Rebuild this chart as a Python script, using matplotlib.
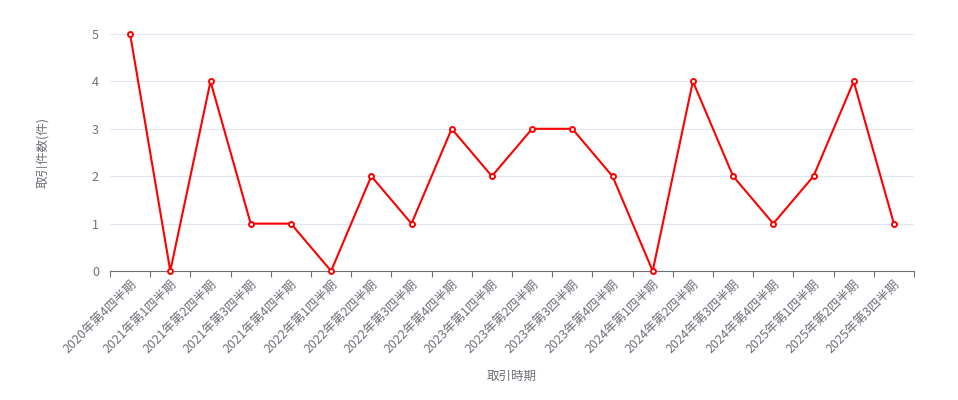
import numpy as np
import matplotlib
matplotlib.use("Agg")
import matplotlib.pyplot as plt

plt.rcParams['font.family'] = ['Noto Sans CJK JP', 'DejaVu Sans']

periods = [
    "2020年第4四半期", "2021年第1四半期", "2021年第2四半期", "2021年第3四半期",
    "2021年第4四半期", "2022年第1四半期", "2022年第2四半期", "2022年第3四半期",
    "2022年第4四半期", "2023年第1四半期", "2023年第2四半期", "2023年第3四半期",
    "2023年第4四半期", "2024年第1四半期", "2024年第2四半期", "2024年第3四半期",
    "2024年第4四半期", "2025年第1四半期", "2025年第2四半期", "2025年第3四半期",
]
counts = [5, 0, 4, 1, 1, 0, 2, 1, 3, 2, 3, 3, 2, 0, 4, 2, 1, 2, 4, 1]

W, H = 958, 400
fig = plt.figure(figsize=(W / 100, H / 100), dpi=100)
ax = fig.add_axes([110 / W, 1 - 271 / H, (914 - 110) / W, (271 - 34) / H])

axis_col = "#6E7079"
grid_col = "#E0E6F1"

x = np.arange(len(periods))
ax.plot(x, counts, color="#FF0000", lw=1.5, marker="o", ms=3.6,
        mfc="white", mec="#FF0000", mew=1.4, zorder=3, clip_on=False)

ax.set_xlim(-0.5, len(periods) - 0.5)
ax.set_ylim(0, 5)
ax.set_yticks(range(0, 6))
ax.grid(axis="y", color=grid_col, lw=0.8)
ax.set_axisbelow(True)

for s in ["top", "right", "left"]:
    ax.spines[s].set_visible(False)
ax.spines["bottom"].set_color(axis_col)
ax.spines["bottom"].set_linewidth(0.8)

# ticks at category boundaries, labels at centers
ax.set_xticks(np.arange(-0.5, len(periods), 1.0))
ax.set_xticklabels([])
ax.set_xticks(x, minor=True)
ax.set_xticklabels(periods, minor=True, rotation=45, ha="right",
                   rotation_mode="anchor", fontsize=9, color=axis_col)
ax.tick_params(axis="x", which="major", length=4, color=axis_col, width=0.8)
ax.tick_params(axis="x", which="minor", length=0, pad=5)
ax.tick_params(axis="y", length=0, labelsize=9, labelcolor=axis_col, pad=8)

fig.text(43 / W, 1 - 152 / H, "取引件数(件)", rotation=90, ha="center",
         va="center", fontsize=9, color=axis_col)
fig.text(512 / W, 1 - 376 / H, "取引時期", ha="center", va="center",
         fontsize=9, color=axis_col)

fig.savefig("out.png", dpi=100)
